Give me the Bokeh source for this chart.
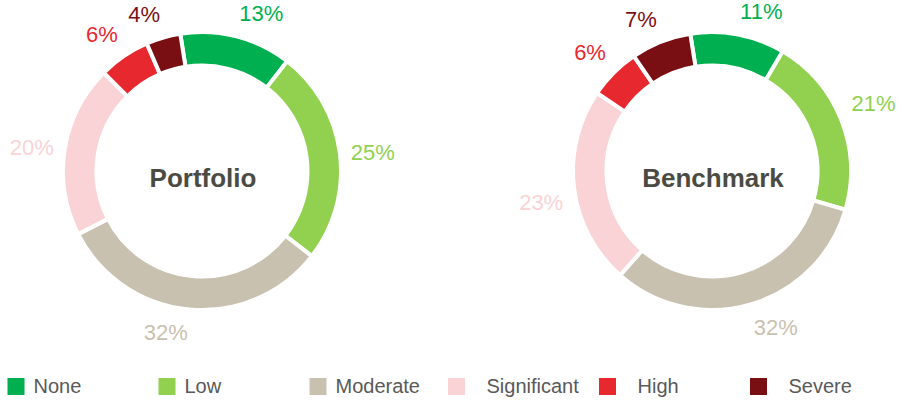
import numpy as np
from bokeh.plotting import figure
from bokeh.models import Range1d, ColumnDataSource
from bokeh.core.properties import value
from bokeh.embed import file_html
from bokeh.resources import INLINE

# ---- data ----
categories = ["None", "Low", "Moderate", "Significant", "High", "Severe"]
portfolio = [13, 25, 32, 20, 6, 4]
benchmark = [11, 21, 32, 23, 6, 7]
colors = ["#00b050", "#92d050", "#c9c1af", "#f9d3d5", "#e8282f", "#7a0f13"]
titles = ["Portfolio", "Benchmark"]

# ---- layout ----
W, H = 905, 398
FONT = "Liberation Sans"
p = figure(width=W, height=H, x_range=Range1d(0, W), y_range=Range1d(0, H),
           output_backend="svg", toolbar_location=None, min_border=0,
           x_axis_location=None, y_axis_location=None)
p.grid.visible = False
p.outline_line_color = None
p.background_fill_color = "white"
p.border_fill_color = "white"

centers = [(201.5, 227.5), (711.5, 227.5)]
R_OUT, R_IN, R_LAB = 139, 105.5, 150
OFFSET = -9.0  # first slice angle, degrees clockwise from top

for vals, (cx, cy), title in zip([portfolio, benchmark], centers, titles):
    v = np.array(vals, dtype=float)
    cum = np.cumsum(v)
    before = cum - v
    t0 = OFFSET + 360 * before / v.sum()
    t1 = OFFSET + 360 * cum / v.sum()
    src = ColumnDataSource(dict(
        start=np.deg2rad(90 - t0), end=np.deg2rad(90 - t1), color=colors))
    p.annular_wedge(x=cx, y=cy, inner_radius=R_IN, outer_radius=R_OUT,
                    start_angle="start", end_angle="end", direction="clock",
                    fill_color="color", line_color="white", line_width=4,
                    source=src)
    tm = np.deg2rad((t0 + t1) / 2)
    s, c = np.sin(tm), np.cos(tm)
    lx = cx + R_LAB * s
    ly = cy + R_LAB * c
    align = ["left" if a > 0.05 else ("right" if a < -0.05 else "center") for a in s]
    base = ["bottom" if b > 0.3 else ("top" if b < -0.1 else "middle") for b in c]
    lsrc = ColumnDataSource(dict(x=lx, y=ly, t=[f"{int(x)}%" for x in vals],
                                 color=colors, align=align, base=base))
    p.text(x="x", y="y", text="t", text_color="color", text_align="align",
           text_baseline="base", text_font=value(FONT), text_font_size="22px",
           source=lsrc)
    p.text(x=[cx + 1], y=[cy - 6.5], text=[title], text_color="#4b4b43",
           text_font=value(FONT), text_font_size="26px", text_font_style="bold",
           text_align="center", text_baseline="middle")

# ---- legend ----
text_x = [33 + 151 * i for i in range(len(categories))]
sq_gap = [26, 26, 26, 38.5, 38.5, 38.5]
sq_x = [tx - g + 8.5 for tx, g in zip(text_x, sq_gap)]
p.rect(x=sq_x, y=[12] * len(categories), width=17, height=17,
       width_units="screen", height_units="screen", fill_color=colors,
       line_color=None)
p.text(x=text_x, y=[1.5] * len(categories), text=categories,
       text_color="#595959", text_font=value(FONT), text_font_size="20px",
       text_align="left", text_baseline="bottom")

open("out.html", "w").write(file_html(p, INLINE))
